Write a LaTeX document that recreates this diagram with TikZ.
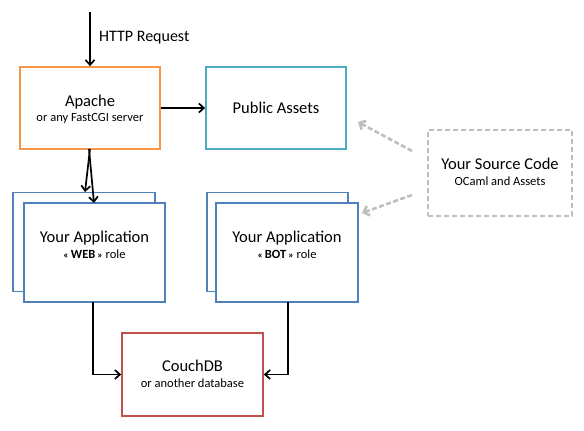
\documentclass[tikz,border=0pt]{standalone}
\usepackage{fontspec}
\setmainfont{Carlito}
\usetikzlibrary{arrows.meta}
\definecolor{orangeb}{RGB}{247,150,70}
\definecolor{cyanb}{RGB}{75,172,198}
\definecolor{blueb}{RGB}{79,129,189}
\definecolor{redb}{RGB}{192,80,77}
\definecolor{grayb}{RGB}{191,191,191}
\newcommand{\gl}{{\fontsize{10}{11}\selectfont\bfseries«}}
\newcommand{\gr}{{\fontsize{10}{11}\selectfont\bfseries»}}
\begin{document}
\begin{tikzpicture}[x=1pt,y=-1pt,
  box/.style={draw=#1,line width=1.7pt,fill=white,inner sep=0pt},
  conn/.style={draw=black,line width=1.7pt,-{Straight Barb[length=5pt,width=9pt]}},
  gconn/.style={draw=grayb,line width=2.6pt,dash pattern=on 5pt off 2.5pt,-{Straight Barb[length=5pt,width=10pt]}},
  main/.style={font=\fontsize{16.5}{18}\selectfont},
  sub/.style={font=\fontsize{12.5}{14}\selectfont}]
\useasboundingbox (0,0) rectangle (584,431);
% Apache
\node[box=orangeb,minimum width=140pt,minimum height=82pt] (apache) at (90,108) {};
\node[main] at (90,102) {Apache};
\node[sub] at (90,118) {or any FastCGI server};
% Public assets
\node[box=cyanb,minimum width=140pt,minimum height=82pt] (pub) at (276,108) {};
\node[main] at (276,108) {Public Assets};
% Source code
\node[draw=grayb,line width=1.7pt,dash pattern=on 5pt off 3pt,minimum width=144pt,minimum height=86pt,inner sep=0pt] (src) at (500,173) {};
\node[main] at (500,164) {Your Source Code};
\node[sub] at (500,181) {OCaml and Assets};
% WEB
\node[box=blueb,minimum width=142pt,minimum height=99pt] (webback) at (84,242) {};
\node[box=blueb,minimum width=141pt,minimum height=99pt] (web) at (94.5,252.5) {};
\node[main] at (94.5,238) {Your Application};
\node[sub] at (94.5,254) {\gl\,\textbf{WEB}\,\gr\ role};
% BOT
\node[box=blueb,minimum width=141pt,minimum height=99pt] (botback) at (277.5,242) {};
\node[box=blueb,minimum width=142pt,minimum height=99pt] (bot) at (287,252.5) {};
\node[main] at (287,238) {Your Application};
\node[sub] at (287,254) {\gl\,\textbf{BOT}\,\gr\ role};
% CouchDB
\node[box=redb,minimum width=141pt,minimum height=83pt] (db) at (192.5,374.5) {};
\node[main] at (192.5,366) {CouchDB};
\node[sub] at (192.5,383) {or another database};
% HTTP
\coordinate (top) at (90,12);
\draw[conn] (top) -- (apache.north) node[pos=0.48,right=5pt,main,font=\fontsize{16}{18}\selectfont] {HTTP Request};
\draw[conn] (apache.east) -- (pub.west);
\draw[conn] (90,149) -- (85,192);
\draw[conn] (89,149) -- (94,203);
\draw[conn] (93,302) |- (db.west);
\draw[conn] (288,302) |- (db.east);
\draw[gconn] (412,151) -- (358,122);
\draw[gconn] (412,195) -- (362,213);
\end{tikzpicture}
\end{document}
